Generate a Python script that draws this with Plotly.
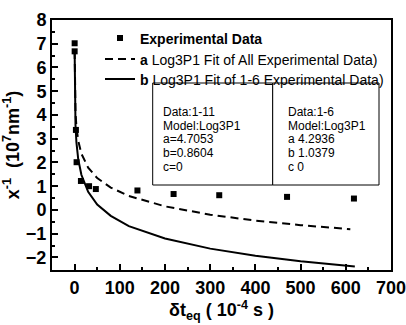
import plotly.graph_objects as go

# Experimental data (x in 10^-4 s, y in 10^7 nm^-1)
exp_x = [0.1, 0.1, 2.9, 4.4, 14, 32, 47, 139, 219, 320, 470, 618]
exp_y = [7.02, 6.68, 3.37, 2.01, 1.22, 1.00, 0.88, 0.82, 0.67, 0.62, 0.55, 0.48]

# Fit curve a (all data)
fit_a_x = [0.1, 0.3, 1, 2, 4, 8, 15, 30, 50, 80, 120, 200, 300, 400, 500, 610]
fit_a_y = [6.69, 5.74, 4.71, 4.11, 3.51, 2.92, 2.37, 1.78, 1.34, 0.94, 0.59, 0.15, -0.20, -0.45, -0.64, -0.81]

# Fit curve b (data 1-6)
fit_b_x = [0.1, 0.3, 1, 2, 4, 8, 15, 30, 50, 80, 120, 200, 300, 400, 500, 620]
fit_b_y = [6.65, 5.54, 4.29, 3.57, 2.85, 2.14, 1.48, 0.76, 0.23, -0.25, -0.68, -1.20, -1.63, -1.93, -2.16, -2.38]

box1_lines = ["Data:1-11", "Model:Log3P1", "a=4.7053", "b=0.8604", "c=0"]
box2_lines = ["Data:1-6", "Model:Log3P1", "a 4.2936", "b 1.0379", "c 0"]

FONT = "Liberation Sans, Arial, Helvetica, sans-serif"

fig = go.Figure()
fig.add_trace(go.Scatter(x=exp_x, y=exp_y, mode="markers", name="<b>Experimental Data</b>",
                         marker=dict(symbol="square", size=6, color="black"), legend="legend"))
fig.add_trace(go.Scatter(x=fit_a_x, y=fit_a_y, mode="lines",
                         name="<b>a</b> Log3P1 Fit of All Experimental Data)",
                         line=dict(color="black", width=2, dash="8px,5px"), legend="legend2"))
fig.add_trace(go.Scatter(x=fit_b_x, y=fit_b_y, mode="lines",
                         name="<b>b</b> Log3P1 Fit of 1-6 Experimental Data)",
                         line=dict(color="black", width=2), legend="legend3"))

W, H = 406, 325
L, R, T, B = 52, 15, 20, 55
pw, ph = W - L - R, H - T - B

def px(x):
    return (x - L) / pw

def py(y):
    return (H - B - y) / ph

shapes = [
    dict(type="rect", xref="paper", yref="paper", x0=px(152.7), x1=px(272.7), y0=py(185), y1=py(83),
         line=dict(color="black", width=1), fillcolor="white", layer="above"),
    dict(type="rect", xref="paper", yref="paper", x0=px(272.7), x1=px(379), y0=py(185), y1=py(83),
         line=dict(color="black", width=1), fillcolor="white", layer="above"),
]
annotations = []
line_y = [111.5, 125.5, 139.3, 153.2, 167.2]
for i, t in enumerate(box1_lines):
    annotations.append(dict(xref="paper", yref="paper", x=px(161), y=py(line_y[i]), text=t,
                            showarrow=False, xanchor="left", yanchor="middle",
                            font=dict(family=FONT, size=12, color="black")))
for i, t in enumerate(box2_lines):
    annotations.append(dict(xref="paper", yref="paper", x=px(286), y=py(line_y[i]), text=t,
                            showarrow=False, xanchor="left", yanchor="middle",
                            font=dict(family=FONT, size=12, color="black")))

leg_common = dict(xanchor="left", yanchor="middle", bgcolor="rgba(0,0,0,0)",
                  font=dict(family=FONT, size=14, color="black"), itemwidth=30)

fig.update_layout(
    width=W, height=H,
    margin=dict(l=L, r=R, t=T, b=B, autoexpand=False),
    paper_bgcolor="white", plot_bgcolor="white",
    font=dict(family=FONT, color="black"),
    showlegend=True,
    legend=dict(x=px(100), y=py(38.5), **leg_common),
    legend2=dict(x=px(100), y=py(59.5), **leg_common),
    legend3=dict(x=px(100), y=py(79.5), **leg_common),
    shapes=shapes,
    annotations=annotations,
)
fig.update_xaxes(range=[-50, 700], tickvals=[0, 100, 200, 300, 400, 500, 600, 700],
                 ticks="inside", ticklen=6, tickwidth=1.5, tickcolor="black",
                 minor=dict(dtick=50, ticks="inside", ticklen=3, tickcolor="black", tickwidth=1.5),
                 showline=True, linecolor="black", linewidth=2, mirror=True,
                 showgrid=False, zeroline=False, ticklabeloverflow="allow",
                 tickfont=dict(family=FONT, size=18, color="black", weight="bold"),
                 title=dict(text="<b>δt<sub>eq</sub> ( 10<sup>-4</sup> s )</b>",
                            font=dict(family=FONT, size=18, color="black"), standoff=3))
fig.update_yaxes(range=[-2.53, 8.0], tickvals=[-2, -1, 0, 1, 2, 3, 4, 5, 6, 7, 8],
                 ticks="inside", ticklen=6, tickwidth=1.5, tickcolor="black",
                 minor=dict(dtick=0.5, ticks="inside", ticklen=3, tickcolor="black", tickwidth=1.5),
                 showline=True, linecolor="black", linewidth=2, mirror=True,
                 showgrid=False, zeroline=False,
                 tickfont=dict(family=FONT, size=18, color="black", weight="bold"),
                 title=dict(text="<b>x<sup>-1</sup>  (10<sup>7</sup>nm<sup>-1</sup>)</b>",
                            font=dict(family=FONT, size=18, color="black"), standoff=6))

fig.write_html("out.html")
